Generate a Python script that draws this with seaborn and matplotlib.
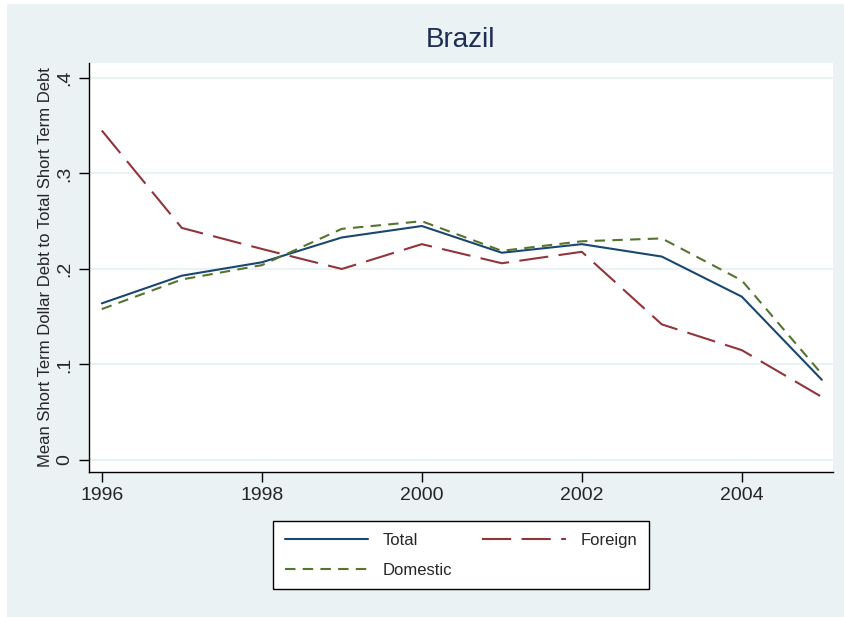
import matplotlib
matplotlib.use("Agg")
import matplotlib.pyplot as plt
from matplotlib.patches import Rectangle
from matplotlib.lines import Line2D
import seaborn as sns
import pandas as pd

years = [1996, 1997, 1998, 1999, 2000, 2001, 2002, 2003, 2004, 2005]
total = [0.164, 0.193, 0.207, 0.233, 0.245, 0.217, 0.226, 0.213, 0.171, 0.084]
foreign = [0.345, 0.243, 0.221, 0.200, 0.226, 0.206, 0.218, 0.142, 0.115, 0.066]
domestic = [0.158, 0.189, 0.204, 0.242, 0.250, 0.219, 0.229, 0.232, 0.188, 0.090]
series_names = ["Total", "Foreign", "Domestic"]
yticks = [0, 0.1, 0.2, 0.3, 0.4]
ytick_labels = ["0", ".1", ".2", ".3", ".4"]
xticks = [1996, 1998, 2000, 2002, 2004]

df = pd.DataFrame({"year": years * 3,
                   "value": total + foreign + domestic,
                   "series": sum([[s] * len(years) for s in series_names], [])})

bg = "#EAF2F3"
colors = {"Total": "#1A476F", "Foreign": "#90353B", "Domestic": "#55752F"}
dashes = {"Total": "", "Foreign": (14, 5), "Domestic": (5, 3.5)}

sns.set_style("white")
plt.rcParams["font.family"] = ["Liberation Sans", "DejaVu Sans"]

fig = plt.figure(figsize=(8.45, 6.17), dpi=100, facecolor="white")
fig.patches.append(Rectangle((7 / 845, 0), 1, 1 - 4 / 617, transform=fig.transFigure,
                             facecolor=bg, edgecolor="none", zorder=-10))
ax = fig.add_axes([89 / 845, 1 - 472 / 617, (833 - 89) / 845, (472 - 63) / 617])
ax.set_facecolor("white")

sns.lineplot(data=df, x="year", y="value", hue="series", style="series",
             palette=colors, dashes=dashes, linewidth=1.5, ax=ax, legend=False)

ax.set_xlim(1995.84, 2005.14)
ax.set_ylim(-0.0126, 0.4157)
ax.set_yticks(yticks)
ax.set_yticklabels(ytick_labels, rotation=90, va="center", fontsize=14)
ax.set_xticks(xticks)
ax.set_xticklabels([str(x) for x in xticks], fontsize=14)
ax.tick_params(axis="both", direction="out", length=7, width=1, color="black",
               left=True, bottom=True, pad=4)
for y in yticks:
    ax.axhline(y, color=bg, linewidth=1.5, zorder=0)
for s in ["top", "right"]:
    ax.spines[s].set_visible(False)
for s in ["left", "bottom"]:
    ax.spines[s].set_color("black")
    ax.spines[s].set_linewidth(1)
ax.set_xlabel("")
ax.set_ylabel("Mean Short Term Dollar Debt to Total Short Term Debt", fontsize=12, labelpad=3)

fig.text(461 / 845, 1 - 40 / 617, "Brazil", ha="center", va="center",
         fontsize=20, color="#1E2D55")

handles = [Line2D([], [], color=colors[s], linewidth=1.5,
                  dashes=dashes[s] if dashes[s] else (None, None)) for s in series_names]
order = [0, 2, 1]
leg = fig.legend([handles[i] for i in order], [series_names[i] for i in order],
                 ncol=2, loc="upper center", bbox_to_anchor=(461 / 845, 1 - 521 / 617),
                 fontsize=12, frameon=True, fancybox=False, framealpha=1,
                 handlelength=5, handletextpad=0.9, columnspacing=1.8,
                 labelspacing=0.9, borderpad=0.7, borderaxespad=0)
leg.get_frame().set_edgecolor("black")
leg.get_frame().set_linewidth(1)
leg.get_frame().set_facecolor("white")

fig.savefig("out.png", dpi=100, facecolor="white")
